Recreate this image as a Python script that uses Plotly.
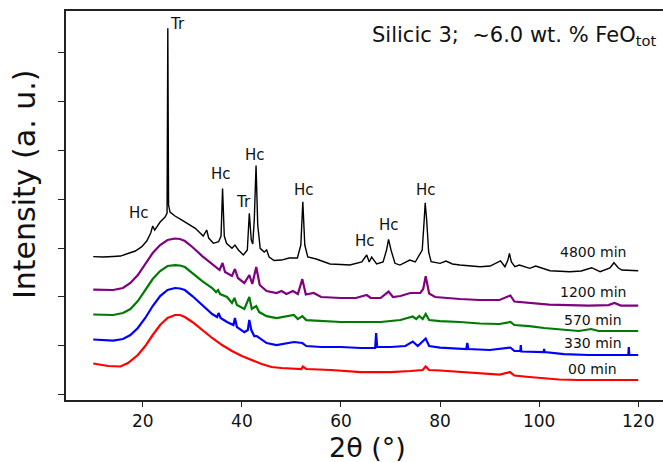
import plotly.graph_objects as go

FONT = "DejaVu Sans"

# ---------------- data (2theta in degrees, intensity in arbitrary units) ----------------
tt_00 = [10, 13, 15.5, 17, 19, 20.5, 22, 23.5, 25, 26.5, 27.5, 28.5, 30, 32, 34, 36, 38, 40, 42, 44, 46, 48,
         52, 52.3, 53, 58, 64, 70, 74, 76.5, 77.1, 77.8, 80, 84, 88, 92, 94.1, 95, 98, 101, 104, 108, 112, 116, 120]
int_00 = [63.8, 58.7, 57.7, 64.8, 81.2, 99.6, 122.1, 142.5, 156.9, 163.0, 163.0, 158.9, 148.7, 132.3, 116.0,
          101.6, 89.4, 79.1, 70.9, 62.8, 56.6, 54.6, 52.6, 57.7, 52.6, 50.5, 46.4, 46.4, 48.5, 50.5, 57.7, 50.5,
          49.5, 46.4, 43.4, 41.3, 46.4, 39.3, 36.2, 33.1, 31.1, 30.1, 30.1, 30.1, 30.1]

tt_330 = [10, 12, 14, 16, 17.5, 19, 20.5, 22, 23.5, 25, 26.5, 27.5, 28.5, 30, 32, 34, 35.0, 35.3, 35.7, 37,
          38.3, 38.6, 39.0, 40.5, 41.2, 41.5, 41.9, 42.5, 43.0, 44, 45, 47, 50.5, 52.2, 53, 56, 60, 64, 66.9,
          67.1, 67.3, 70, 73, 74.5, 75.5, 77.1, 77.8, 80, 85.3, 85.5, 85.7, 90, 94.2, 95, 96.2, 96.3, 96.4,
          100.9, 101.0, 101.1, 105, 110, 114, 118, 118.1, 118.2, 120]
int_330 = [112.9, 111.9, 110.8, 113.9, 122.1, 136.4, 156.9, 181.4, 201.8, 214.1, 218.2, 217.2, 214.1, 201.8,
           183.4, 165.0, 158.9, 167.1, 156.9, 148.7, 142.5, 156.9, 138.4, 128.1, 132.3, 152.8, 132.3, 120.0,
           120.0, 111.9, 105.7, 101.6, 107.8, 105.7, 99.6, 97.6, 97.6, 95.5, 95.5, 126.1, 97.6, 97.6, 99.6,
           108.8, 99.6, 114.9, 99.6, 96.5, 93.5, 105.7, 93.5, 91.4, 96.5, 89.4, 89.4, 101.6, 88.4, 87.3, 93.5,
           87.3, 83.2, 81.2, 81.2, 81.2, 97.6, 81.2, 81.2]

tt_570 = [10, 12, 14, 16, 17.5, 19, 20.5, 22, 23.5, 25, 26.5, 27.5, 28.5, 30, 32, 34, 34.8, 35.2, 35.6, 37,
          38.0, 38.5, 39.0, 40.5, 41.5, 42.0, 42.9, 43.5, 45, 47, 50.5, 51.3, 52.2, 53, 56, 60, 64, 68, 72,
          74.5, 75.2, 75.8, 76.5, 77.1, 77.8, 80, 84, 88, 92, 94.2, 95, 98, 101, 104, 108, 110.5, 112, 116, 120]
int_570 = [164.0, 163.0, 163.0, 167.1, 175.3, 191.6, 214.1, 236.6, 253.0, 263.2, 265.2, 264.2, 261.1, 248.9,
           232.5, 218.2, 209.9, 214.1, 205.9, 199.8, 187.5, 197.8, 183.4, 175.3, 199.8, 175.3, 181.4, 169.0,
           160.7, 156.6, 163.0, 154.6, 160.7, 152.6, 150.5, 148.7, 148.7, 148.7, 152.8, 159.9, 154.8, 161.0,
           154.8, 165.0, 152.8, 150.7, 148.7, 145.6, 144.6, 148.7, 142.5, 140.4, 136.4, 133.3, 130.3, 134.4,
           130.3, 130.3, 130.3]

tt_1200 = [10, 12, 14, 16, 17.5, 19, 20.5, 22, 23.5, 25, 26.5, 27.5, 28.5, 30, 32, 34, 35.5, 36.1, 36.6, 38.0,
           38.6, 39.2, 40.5, 41.5, 42.1, 42.9, 43.6, 45, 47, 48, 49, 50.3, 51.3, 52.2, 52.9, 54.5, 56, 60, 63,
           65.2, 66, 68, 69.6, 70.5, 72, 74, 76, 76.6, 77.1, 77.8, 79, 84, 88, 92, 94.2, 95, 98, 102, 106, 110,
           114, 115.2, 116.5, 120]
int_1200 = [215.1, 214.1, 214.1, 218.2, 228.4, 244.8, 267.3, 289.8, 306.1, 316.4, 319.4, 318.4, 314.3, 302.1,
            283.6, 267.3, 255.0, 269.3, 250.9, 242.8, 257.1, 238.7, 228.4, 244.8, 226.4, 261.1, 224.4, 212.1,
            208.0, 212.1, 205.9, 212.1, 205.9, 236.4, 204.9, 208.0, 199.8, 197.8, 197.8, 203.9, 197.8, 197.8,
            211.0, 199.8, 201.8, 208.0, 208.0, 216.2, 242.4, 206.9, 199.8, 195.7, 193.7, 193.7, 202.9, 190.6,
            187.5, 184.4, 183.4, 182.4, 183.4, 187.5, 182.4, 182.0]

tt_4800 = [10, 12, 14, 15.5, 17, 18.5, 19.8, 20.8, 21.6, 22.0, 22.4, 23.5, 24.5, 24.9, 25.05, 25.2, 25.5, 26.5,
           27.9, 29.3, 30.6, 32.2, 32.9, 33.3, 34.25, 35.3, 35.8, 36.1, 36.45, 36.9, 38.0, 38.6, 39.3, 40.3,
           41.1, 41.5, 41.9, 42.2, 42.5, 42.86, 43.2, 43.7, 44.5, 45.0, 45.5, 46.5, 48, 49.5, 51.2, 51.9, 52.3,
           52.7, 53.3, 55, 57.8, 60, 61.8, 64.2, 65.2, 65.7, 66.2, 67.2, 68.5, 69.2, 69.6, 70.1, 70.9, 71.9,
           73.9, 75.0, 75.8, 76.4, 76.8, 77.0, 77.3, 77.7, 78.2, 80, 81.2, 82.5, 84, 88.1, 90.1, 92.2, 93.1,
           93.7, 94.0, 94.4, 95.1, 96.0, 98.1, 99.3, 102.2, 106.2, 108.5, 110.6, 112.3, 114.3, 115.1, 116.0,
           116.7, 120]
int_4800 = [282.3, 281.6, 282.6, 283.6, 288.8, 293.9, 302.7, 314.3, 330.7, 345.0, 336.8, 353.2, 363.4, 371.5,
            749.3, 387.9, 373.6, 365.4, 357.2, 349.1, 340.3, 324.5, 336.8, 320.4, 309.6, 312.9, 324.5, 421.7,
            324.5, 309.6, 299.4, 306.1, 295.9, 285.7, 295.9, 371.0, 316.0, 308.2, 357.2, 468.7, 347.0, 299.4,
            291.8, 295.9, 281.6, 274.4, 275.4, 279.6, 279.6, 306.1, 394.7, 306.1, 281.6, 277.5, 267.3, 266.3,
            265.2, 271.4, 285.7, 271.4, 281.6, 267.3, 271.4, 295.9, 317.8, 295.9, 268.7, 265.2, 275.4, 271.4,
            285.7, 295.9, 357.2, 392.6, 357.2, 291.8, 272.0, 268.7, 273.4, 267.3, 265.2, 261.7, 263.1, 273.9,
            261.7, 275.4, 289.2, 271.4, 261.7, 265.2, 258.5, 263.1, 253.6, 251.5, 253.0, 259.7, 251.5, 259.1,
            269.9, 259.1, 255.0, 253.6]

series_names = ["00 min", "330 min", "570 min", "1200 min", "4800 min"]
series_x = [tt_00, tt_330, tt_570, tt_1200, tt_4800]
series_y = [int_00, int_330, int_570, int_1200, int_4800]
series_colors = ["#ff0000", "#0000ff", "#007a00", "#800080", "#000000"]
series_widths = [2.2, 2.2, 2.2, 2.2, 1.4]

# curve labels
curve_label_x = 110.8
curve_label_y = [51.9, 105.1, 152.8, 209.4, 292.4]

# phase labels on peaks
peak_labels = ["Hc", "Tr", "Hc", "Tr", "Hc", "Hc", "Hc", "Hc", "Hc"]
peak_label_x = [19.19, 27.08, 35.80, 40.24, 42.66, 52.55, 64.86, 69.74, 77.10]
peak_label_y = [372.0, 757.5, 450.7, 394.1, 490.2, 419.2, 314.7, 347.4, 418.6]

x_ticks = [20, 40, 60, 80, 100, 120]
y_ticks = [0, 100, 200, 300, 400, 500, 600, 700]

# ---------------- figure ----------------
fig = go.Figure()
for name, xs, ys, col, w in zip(series_names, series_x, series_y, series_colors, series_widths):
    fig.add_trace(go.Scatter(x=xs, y=ys, mode="lines", name=name,
                             line=dict(color=col, width=w), showlegend=False))

for name, yv in zip(series_names, curve_label_y):
    fig.add_annotation(x=curve_label_x, y=yv, text=name, showarrow=False,
                       font=dict(family=FONT, size=14, color="#111"),
                       xanchor="center", yanchor="middle")

for t, xv, yv in zip(peak_labels, peak_label_x, peak_label_y):
    fig.add_annotation(x=xv, y=yv, text=t, showarrow=False,
                       font=dict(family=FONT, size=15, color="#111"),
                       xanchor="center", yanchor="middle")

fig.add_annotation(xref="paper", yref="paper", x=0.9916, y=0.935,
                   text="Silicic 3;\u00a0\u00a0~6.0 wt.\u00a0% FeO<sub>tot</sub>", showarrow=False,
                   font=dict(family=FONT, size=21, color="#111"), xanchor="right", yanchor="middle")

# axis titles as annotations for precise placement
fig.add_annotation(xref="paper", yref="paper", x=(367 - 66) / 597, y=-(447 - 400) / 389,
                   text="2θ (°)", showarrow=False, font=dict(family=FONT, size=27, color="#111"),
                   xanchor="center", yanchor="middle")
fig.add_annotation(xref="paper", yref="paper", x=-(66 - 25) / 597, y=(400 - 184) / 389,
                   text="Intensity (a. u.)", textangle=-90, showarrow=False,
                   font=dict(family=FONT, size=30, color="#111"),
                   xanchor="center", yanchor="middle")

fig.update_layout(
    width=663, height=462,
    margin=dict(l=66, r=0, t=11, b=62),
    paper_bgcolor="white", plot_bgcolor="white",
    font=dict(family=FONT, color="#111"),
)
fig.update_xaxes(range=[4.5, 125.0], tickvals=x_ticks, ticks="outside", ticklen=5, tickwidth=1.3,
                 tickcolor="#222", showline=True, linecolor="#222", linewidth=1.6, mirror=True,
                 showgrid=False, zeroline=False, tickfont=dict(family=FONT, size=17, color="#111"))
fig.update_yaxes(range=[-10.8, 784.7], tickvals=y_ticks, showticklabels=False, ticks="outside",
                 ticklen=6, tickwidth=1.3, tickcolor="#222", showline=True, linecolor="#222",
                 linewidth=1.6, mirror=False, showgrid=False, zeroline=False)

fig.write_html("out.html")
